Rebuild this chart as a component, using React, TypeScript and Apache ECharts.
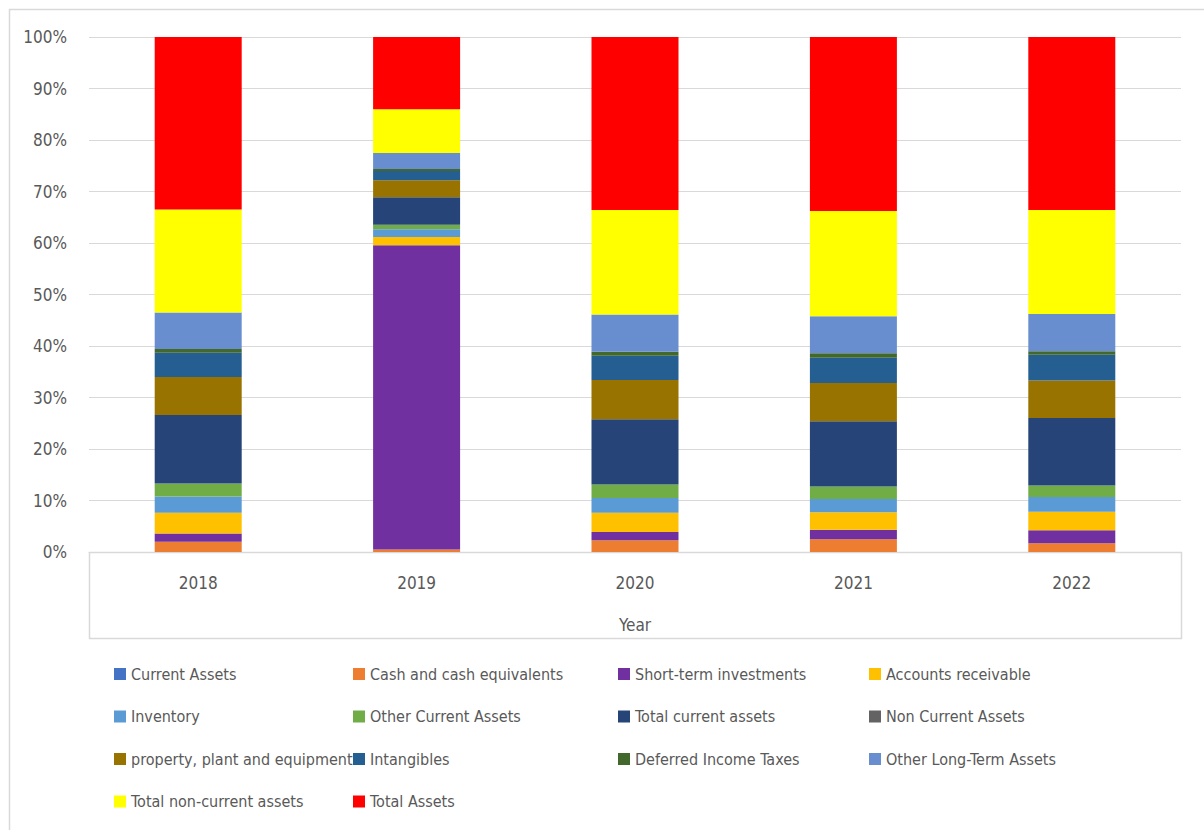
import React, { useEffect, useRef } from "react";
import * as echarts from "echarts";

const years = ["2018", "2019", "2020", "2021", "2022"];

const seriesNames = [
  "Current Assets",
  "Cash and cash equivalents",
  "Short-term investments",
  "Accounts receivable",
  "Inventory",
  "Other Current Assets",
  "Total current assets",
  "Non Current Assets",
  "property, plant and equipment",
  "Intangibles",
  "Deferred Income Taxes",
  "Other Long-Term Assets",
  "Total non-current assets",
  "Total Assets",
];

const currentAssets = [0, 0, 0, 0, 0];
const cashAndEquivalents = [2.0, 0.5, 2.3, 2.5, 1.7];
const shortTermInvestments = [1.6, 59.0, 1.6, 1.8, 2.5];
const accountsReceivable = [4.0, 1.6, 3.7, 3.4, 3.6];
const inventory = [3.2, 1.5, 2.9, 2.6, 2.9];
const otherCurrentAssets = [2.5, 0.9, 2.6, 2.4, 2.2];
const totalCurrentAssets = [13.3, 5.3, 12.7, 12.7, 13.1];
const nonCurrentAssets = [0, 0, 0, 0, 0];
const ppe = [7.4, 3.3, 7.6, 7.4, 7.3];
const intangibles = [4.7, 1.8, 4.7, 4.9, 5.0];
const deferredIncomeTaxes = [0.7, 0.4, 0.8, 0.9, 0.7];
const otherLongTermAssets = [7.1, 3.1, 7.2, 7.2, 7.2];
const totalNonCurrentAssets = [20.0, 8.5, 20.3, 20.4, 20.2];
const totalAssets = [33.5, 14.0, 33.6, 33.8, 33.6];

const yTicks = [0, 10, 20, 30, 40, 50, 60, 70, 80, 90, 100];

const colors = [
  "#4472C4",
  "#ED7D31",
  "#7030A0",
  "#FFC000",
  "#5B9BD5",
  "#70AD47",
  "#264478",
  "#636363",
  "#997300",
  "#255E91",
  "#43682B",
  "#698ED0",
  "#FFFF00",
  "#FF0000",
];

const legendColumns = [
  ["Current Assets", "Inventory", "property, plant and equipment", "Total non-current assets"],
  ["Cash and cash equivalents", "Other Current Assets", "Intangibles", "Total Assets"],
  ["Short-term investments", "Total current assets", "Deferred Income Taxes"],
  ["Accounts receivable", "Non Current Assets", "Other Long-Term Assets"],
];
const legendLefts = [114, 353, 618, 869];

const FONT = "'DejaVu Sans Condensed', 'Liberation Sans Narrow', sans-serif";
const TXT = "#595959";

export default function App() {
  const ref = useRef<HTMLDivElement>(null);

  useEffect(() => {
    if (!ref.current) return;
    const chart = echarts.init(ref.current, undefined, { renderer: "svg" });
    const raw = [
      currentAssets,
      cashAndEquivalents,
      shortTermInvestments,
      accountsReceivable,
      inventory,
      otherCurrentAssets,
      totalCurrentAssets,
      nonCurrentAssets,
      ppe,
      intangibles,
      deferredIncomeTaxes,
      otherLongTermAssets,
      totalNonCurrentAssets,
      totalAssets,
    ];
    const sums = years.map((_, i) => raw.reduce((s, arr) => s + arr[i], 0));
    const gridLeft = 89;
    const gridTop = 37;
    const gridRight = 23;
    const gridBottom = 278;
    const W = 1204;
    const H = 830;

    chart.setOption({
      animation: false,
      backgroundColor: "#ffffff",
      textStyle: { fontFamily: FONT },
      grid: { left: gridLeft, top: gridTop, right: gridRight, bottom: gridBottom },
      xAxis: {
        type: "category",
        data: years,
        name: "Year",
        nameLocation: "middle",
        nameGap: 64,
        nameTextStyle: { color: TXT, fontSize: 17, fontFamily: FONT },
        axisLine: { show: true, lineStyle: { color: "#D9D9D9", width: 1 } },
        axisTick: { show: false },
        axisLabel: { color: TXT, fontSize: 17, margin: 22, fontFamily: FONT },
      },
      yAxis: {
        type: "value",
        min: yTicks[0],
        max: yTicks[yTicks.length - 1],
        interval: yTicks[1] - yTicks[0],
        axisLine: { show: false },
        axisTick: { show: false },
        splitLine: { lineStyle: { color: "#D9D9D9", width: 1 } },
        axisLabel: {
          color: TXT,
          fontSize: 17,
          margin: 22,
          fontFamily: FONT,
          formatter: "{value}%",
        },
      },
      legend: legendColumns.map((names, c) => ({
        orient: "vertical",
        left: legendLefts[c],
        top: 664,
        padding: 0,
        itemWidth: 12,
        itemHeight: 12,
        itemGap: 22.5,
        icon: "rect",
        selectedMode: false,
        data: names,
        textStyle: { color: TXT, fontSize: 16, lineHeight: 20, fontFamily: FONT },
      })),
      graphic: [
        {
          type: "rect",
          shape: { x: 9.5, y: 9.5, width: 1400, height: 1000 },
          style: { fill: "none", stroke: "#D9D9D9", lineWidth: 1.5 },
          silent: true,
          z: -1,
        },
        {
          type: "rect",
          shape: {
            x: gridLeft + 0.5,
            y: H - gridBottom + 0.5,
            width: W - gridLeft - gridRight,
            height: 86,
          },
          style: { fill: "none", stroke: "#D9D9D9", lineWidth: 1.5 },
          silent: true,
          z: -1,
        },
      ],
      series: raw.map((arr, k) => ({
        name: seriesNames[k],
        type: "bar",
        stack: "total",
        barWidth: 87,
        itemStyle: { color: colors[k] },
        emphasis: { disabled: true },
        data: arr.map((v, i) => (v / sums[i]) * 100),
      })),
    });
    return () => chart.dispose();
  }, []);

  return (
    <div
      ref={ref}
      style={{ position: "fixed", left: 0, top: 0, width: 1204, height: 830 }}
    />
  );
}
